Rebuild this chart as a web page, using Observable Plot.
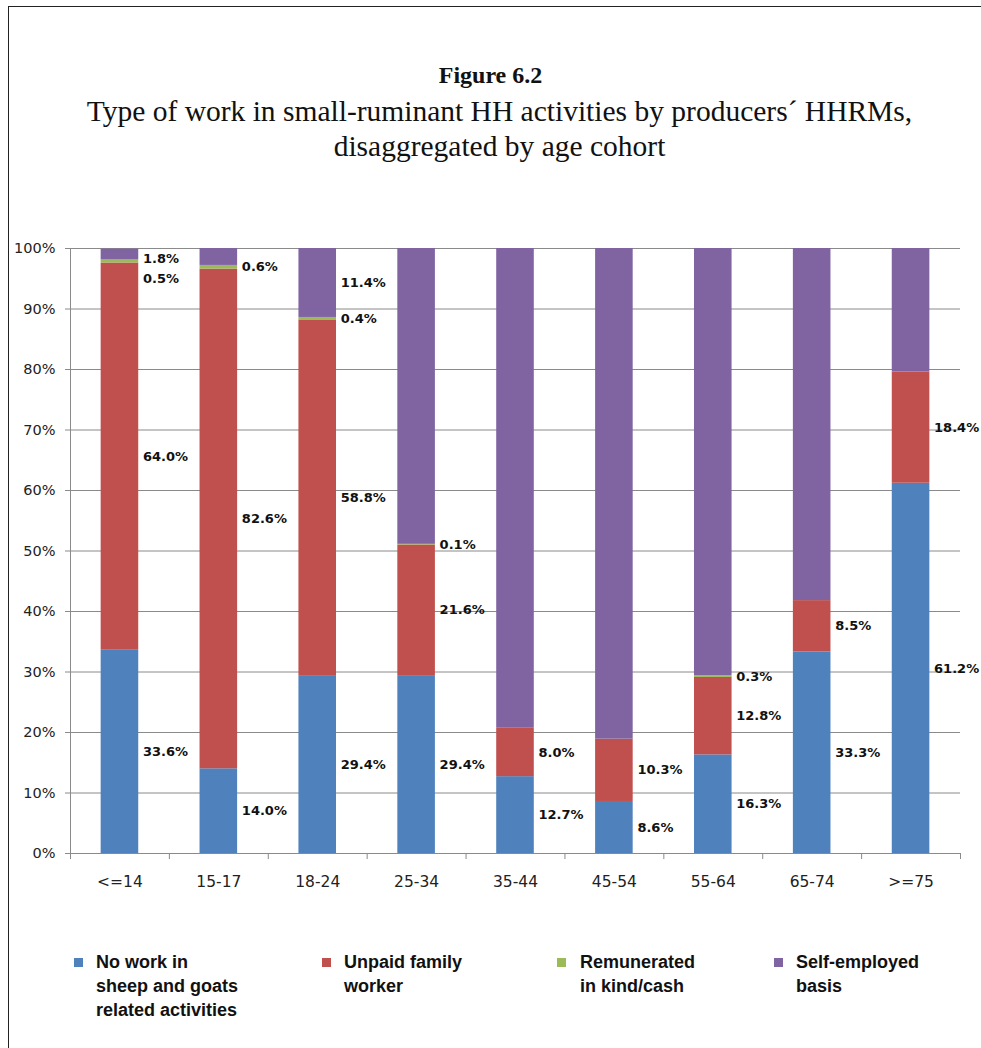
<!DOCTYPE html>
<html><head><meta charset="utf-8">
<script src="https://cdn.jsdelivr.net/npm/d3@7"></script>
<script src="https://cdn.jsdelivr.net/npm/@observablehq/plot@0.6"></script>
<style>
body{margin:0;background:#fff;}
#page{position:relative;width:981px;height:1048px;overflow:hidden;background:#fff;}
#frame{position:absolute;left:8px;top:6px;width:1000px;height:1100px;border-left:1.5px solid #222;border-top:1.5px solid #222;}
#title{position:absolute;left:0;width:981px;top:57px;text-align:center;font-family:"Liberation Serif",serif;color:#111;}
#title .t1{font-weight:bold;font-size:24px;line-height:37px;}
#title .t2{font-size:29.5px;line-height:35px;padding-left:18px;}
#chart{position:absolute;left:0;top:220px;}
#legend{position:absolute;left:0;top:950px;width:981px;font-family:"Liberation Sans",sans-serif;font-weight:bold;font-size:18px;line-height:24px;color:#111;}
.item{position:absolute;top:0;}
.sw{position:absolute;width:9px;height:9px;top:8px;}
.lab{position:absolute;white-space:nowrap;}
</style></head>
<body><div id="page"><div id="frame"></div>
<div id="title"><div class="t1">Figure 6.2</div>
<div class="t2">Type of work in small-ruminant HH activities by producers´ HHRMs,<br>disaggregated by age cohort</div></div>
<div id="chart"></div>
<div id="legend"></div>
</div>
<script>
const cats = ["<=14","15-17","18-24","25-34","35-44","45-54","55-64","65-74",">=75"];
const seriesNames = ["No work in sheep and goats related activities","Unpaid family worker","Remunerated in kind/cash","Self-employed basis"];
const legendLines = [["No work in","sheep and goats","related activities"],["Unpaid family","worker"],["Remunerated","in kind/cash"],["Self-employed","basis"]];
const colors = ["#4F81BD","#C0504D","#9BBB59","#8064A2"];
const noWork = [33.6,14.0,29.4,29.4,12.7,8.6,16.3,33.3,61.2];
const unpaid = [64.0,82.6,58.8,21.6,8.0,10.3,12.8,8.5,18.4];
const remun  = [0.5,0.6,0.4,0.1,0,0,0.3,0,0];
const selfEmp = [1.8,2.8,11.4,48.9,79.3,81.1,70.6,58.2,20.4];
const purpleLabeled = ["<=14","18-24"];
const yTicks = [0,10,20,30,40,50,60,70,80,90,100];

const seriesVals = [noWork, unpaid, remun, selfEmp];
const rows = [];
cats.forEach((c,i)=>seriesVals.forEach((arr,s)=>rows.push({cat:c, series:seriesNames[s], value:arr[i]})));

// data labels: segment midpoints, nudged apart when they collide
const labels = [];
cats.forEach((c,i)=>{
  let base = 0; const segs = [];
  seriesVals.forEach((arr,s)=>{
    const v = arr[i];
    const show = s<2 || (s===2 && v>0) || (s===3 && purpleLabeled.includes(c));
    if (show) segs.push({cat:c, mid: base + v/2, txt: v.toFixed(1)+"%"});
    base += v;
  });
  segs.reverse();
  let prev = 98.3 + 3.3;
  segs.forEach(s=>{ s.ly = Math.min(s.mid, prev - 3.3); prev = s.ly; labels.push(s); });
});

const W = 981, H = 700, mL = 70, mR = 21;
const step = (W - mL - mR) / cats.length;
const axisC = "#8a8a8a";

const plot = Plot.plot({
  width: W, height: H, marginLeft: mL, marginRight: mR, marginTop: 28, marginBottom: 67,
  x: {domain: cats, padding: 0, round: false},
  y: {domain: [0,100]},
  color: {domain: seriesNames, range: colors},
  style: {fontFamily: "DejaVu Sans, Verdana, sans-serif", fontSize: "14.5px", color: "#222", background: "transparent"},
  marks: [
    Plot.ruleY(yTicks.filter(d=>d>0), {stroke: axisC, strokeWidth: 1}),
    Plot.barY(rows, {x: "cat", y: "value", fill: "series", insetLeft: step*0.31, insetRight: step*0.31}),
    Plot.ruleY([0], {stroke: axisC, strokeWidth: 1}),
    Plot.ruleX(cats, {x: d=>d, dx: -step/2, y1: -1, y2: 0, stroke: axisC}),
    Plot.ruleX([cats[cats.length-1]], {x: d=>d, dx: step/2, y1: -1, y2: 0, stroke: axisC}),
    Plot.ruleX([cats[0]], {x: d=>d, dx: -step/2, y1: 0, y2: 100, stroke: axisC}),
    Plot.axisY({ticks: yTicks, tickFormat: d=>d+"%", tickSize: 5, tickPadding: 10, label: null, stroke: axisC}),
    Plot.axisX({tickSize: 0, tickPadding: 22, label: null, fontSize: 15.5}),
    Plot.text(labels, {x: "cat", y: "ly", text: "txt", dx: 23, textAnchor: "start", fontWeight: "bold", fontSize: 13, fill: "#111"})
  ]
});
document.getElementById("chart").appendChild(plot);

const lg = document.getElementById("legend");
const lx = [74, 322, 557, 774];
seriesNames.forEach((n,i)=>{
  const it = document.createElement("div"); it.className="item"; it.style.left = lx[i]+"px";
  const sw = document.createElement("div"); sw.className="sw"; sw.style.left="0px"; sw.style.background=colors[i];
  const lb = document.createElement("div"); lb.className="lab"; lb.style.left = (i===2?23:22)+"px";
  lb.innerHTML = legendLines[i].join("<br>");
  it.appendChild(sw); it.appendChild(lb); lg.appendChild(it);
});
</script></body></html>
